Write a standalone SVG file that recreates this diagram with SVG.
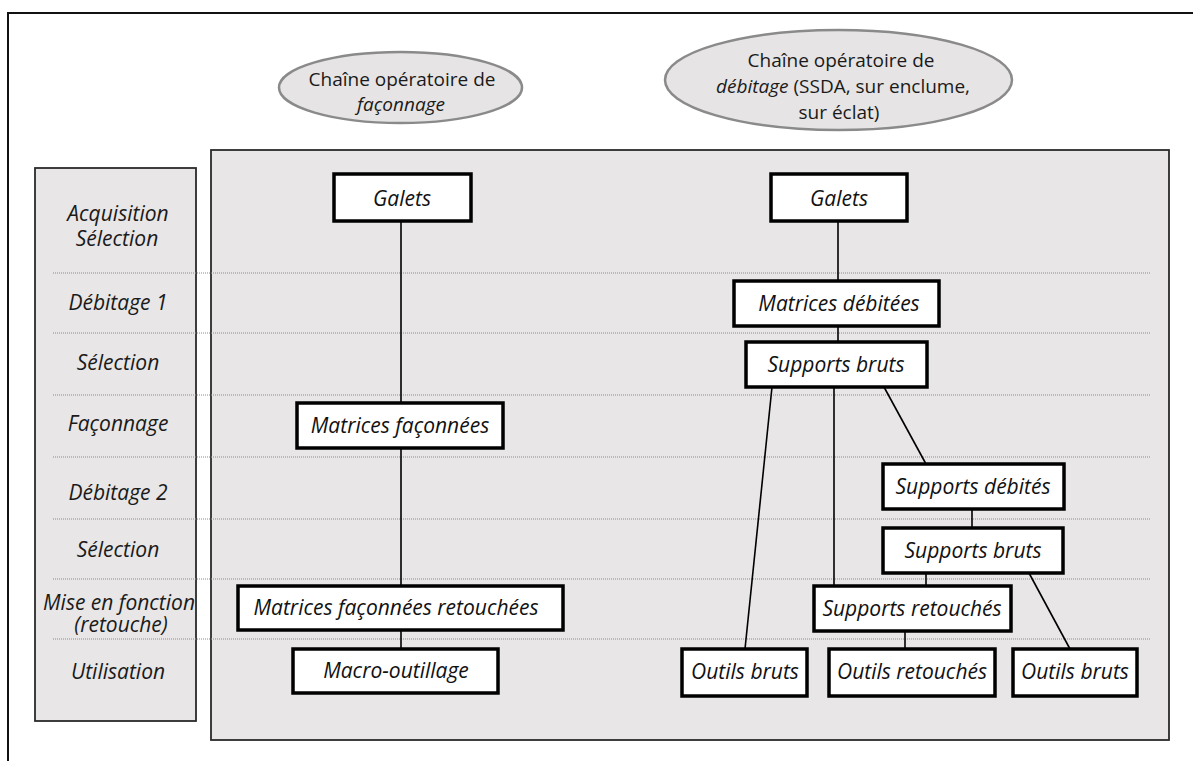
<svg xmlns="http://www.w3.org/2000/svg" width="1193" height="761" viewBox="0 0 1193 761">
<defs>
<style>
.frame{fill:none;stroke:#111;stroke-width:2}
.panel{fill:#e8e6e6;stroke:#2a2a2a;stroke-width:1.8}
.ell{fill:#e6e4e4;stroke:#8a8a8a;stroke-width:2.5}
.dot{stroke:#8c8c8c;stroke-width:1;stroke-dasharray:1 1;fill:none}
.box{fill:#fff;stroke:#000;stroke-width:3.5}
.conn line{stroke:#000;stroke-width:1.6}
.lbl{font-family:"Open Sans","Noto Sans",sans-serif;font-style:italic;font-size:21px;fill:#1a1a1a;text-anchor:middle}
.nt{font-family:"Open Sans","Noto Sans",sans-serif;font-style:italic;font-size:21px;fill:#111;text-anchor:middle}
.et{font-family:"Open Sans","Noto Sans",sans-serif;font-size:19px;fill:#1a1a1a;text-anchor:middle}
.it{font-style:italic}
</style>
</defs>
<rect x="0" y="0" width="1193" height="761" fill="#fff"/>
<path class="frame" d="M8 761 V13 H1193"/>

<g id="ellipse-faconnage">
<ellipse class="ell" cx="400.5" cy="87.5" rx="121.5" ry="35.5"/>
<text class="et" x="402" y="86">Chaîne opératoire de</text>
<text class="et it" x="401" y="111">façonnage</text>
</g>
<g id="ellipse-debitage">
<ellipse class="ell" cx="838.5" cy="80" rx="173.5" ry="50"/>
<text class="et" x="841" y="67">Chaîne opératoire de</text>
<text class="et" x="843" y="93"><tspan class="it">débitage</tspan> (SSDA, sur enclume,</text>
<text class="et" x="839" y="119">sur éclat)</text>
</g>

<rect id="left-panel" class="panel" x="35" y="168" width="161" height="553"/>
<rect id="main-panel" class="panel" x="211" y="150" width="958" height="590"/>

<g id="stage-lines">
<line class="dot" x1="53" y1="273" x2="1151" y2="273"/>
<line class="dot" x1="53" y1="333" x2="1151" y2="333"/>
<line class="dot" x1="53" y1="395" x2="1151" y2="395"/>
<line class="dot" x1="53" y1="457" x2="1151" y2="457"/>
<line class="dot" x1="53" y1="519" x2="1151" y2="519"/>
<line class="dot" x1="53" y1="579" x2="1151" y2="579"/>
<line class="dot" x1="53" y1="639" x2="1151" y2="639"/>
</g>

<g id="stage-labels">
<text class="lbl" x="118" y="221">Acquisition</text>
<text class="lbl" x="117" y="246">Sélection</text>
<text class="lbl" x="118" y="310">Débitage 1</text>
<text class="lbl" x="118" y="370">Sélection</text>
<text class="lbl" x="118" y="431">Façonnage</text>
<text class="lbl" x="118" y="500">Débitage 2</text>
<text class="lbl" x="118" y="557">Sélection</text>
<text class="lbl" x="119" y="610">Mise en fonction</text>
<text class="lbl" x="121" y="632">(retouche)</text>
<text class="lbl" x="118" y="679">Utilisation</text>
</g>

<g id="connectors" class="conn">
<line x1="401" y1="221" x2="401" y2="403"/>
<line x1="401" y1="448" x2="401" y2="586"/>
<line x1="401" y1="630" x2="401" y2="649"/>
<line x1="838" y1="221" x2="838" y2="281"/>
<line x1="838" y1="326" x2="838" y2="342"/>
<line x1="772" y1="387" x2="745" y2="649"/>
<line x1="834" y1="387" x2="834" y2="586"/>
<line x1="884" y1="387" x2="926" y2="464"/>
<line x1="972" y1="509" x2="972" y2="528"/>
<line x1="926" y1="573" x2="926" y2="586"/>
<line x1="1029" y1="573" x2="1070" y2="649"/>
<line x1="905" y1="631" x2="905" y2="649"/>
</g>

<g id="galets-left"><rect class="box" x="334" y="174" width="137" height="47"/><text class="nt" x="402" y="206">Galets</text></g>
<g id="matrices-faconnees"><rect class="box" x="297" y="403" width="206" height="45"/><text class="nt" x="400" y="433">Matrices façonnées</text></g>
<g id="matrices-faconnees-retouchees"><rect class="box" x="238" y="586" width="325" height="44"/><text class="nt" x="396" y="615">Matrices façonnées retouchées</text></g>
<g id="macro-outillage"><rect class="box" x="293" y="649" width="205" height="44"/><text class="nt" x="396" y="678">Macro-outillage</text></g>

<g id="galets-right"><rect class="box" x="771" y="174" width="136" height="47"/><text class="nt" x="839" y="206">Galets</text></g>
<g id="matrices-debitees"><rect class="box" x="734" y="281" width="205" height="45"/><text class="nt" x="839" y="311">Matrices débitées</text></g>
<g id="supports-bruts-1"><rect class="box" x="746" y="342" width="181" height="45"/><text class="nt" x="836" y="372">Supports bruts</text></g>
<g id="supports-debites"><rect class="box" x="883" y="464" width="181" height="45"/><text class="nt" x="973" y="494">Supports débités</text></g>
<g id="supports-bruts-2"><rect class="box" x="883" y="528" width="180" height="45"/><text class="nt" x="973" y="558">Supports bruts</text></g>
<g id="supports-retouches"><rect class="box" x="814" y="586" width="197" height="45"/><text class="nt" x="912" y="616">Supports retouchés</text></g>
<g id="outils-bruts-left"><rect class="box" x="682" y="649" width="125" height="47"/><text class="nt" x="745" y="679">Outils bruts</text></g>
<g id="outils-retouches"><rect class="box" x="829" y="649" width="166" height="47"/><text class="nt" x="912" y="679">Outils retouchés</text></g>
<g id="outils-bruts-right"><rect class="box" x="1013" y="649" width="124" height="47"/><text class="nt" x="1075" y="679">Outils bruts</text></g>
</svg>
